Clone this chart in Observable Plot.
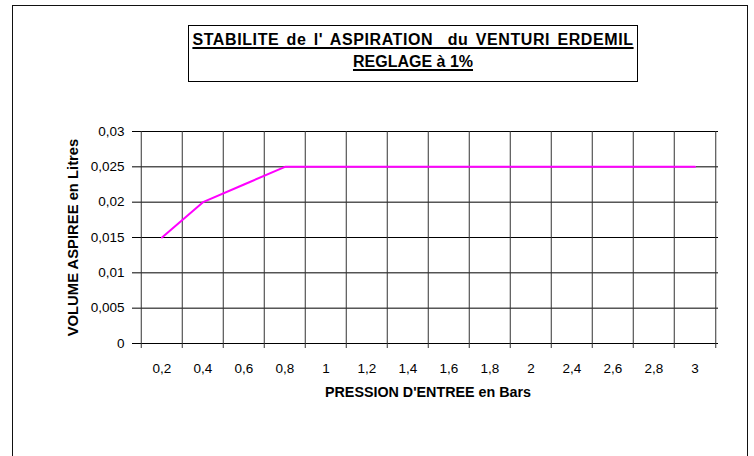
<!DOCTYPE html>
<html>
<head>
<meta charset="utf-8">
<script src="https://cdn.jsdelivr.net/npm/d3@7"></script>
<script src="https://cdn.jsdelivr.net/npm/@observablehq/plot@0.6"></script>
<style>
html, body { margin: 0; padding: 0; background: #fff; width: 754px; height: 456px; overflow: hidden; font-family: "Liberation Sans", Arial, sans-serif; }
#frame { position: absolute; left: 12px; top: 5px; width: 736px; height: 480px; border: 1.5px solid #111; box-sizing: border-box; }
#title { position: absolute; left: 188px; top: 25px; width: 450px; height: 57px; border: 1px solid #000; box-sizing: border-box; }
#title .l { position: absolute; left: 0; width: 100%; text-align: center; font-weight: bold; font-size: 16px; line-height: 16px; color: #000; text-decoration: underline; text-decoration-thickness: 2px; text-underline-offset: 2px; white-space: pre; }
#t1 { letter-spacing: 0.6px; word-spacing: 2.2px; }
#chart { position: absolute; left: 0; top: 95px; }
</style>
</head>
<body>
<div id="frame"></div>
<div id="title">
  <div class="l" id="t1" style="top:6px"></div>
  <div class="l" id="t2" style="top:28px"></div>
</div>
<div id="chart"></div>
<script>
const titleLines = ["STABILITE de l' ASPIRATION  du VENTURI ERDEMIL", "REGLAGE à 1%"];
const xTitle = "PRESSION D'ENTREE en Bars";
const yTitle = "VOLUME ASPIREE en Litres";
const pressures = [0.2, 0.4, 0.6, 0.8, 1, 1.2, 1.4, 1.6, 1.8, 2, 2.4, 2.6, 2.8, 3];
const volumes = [0.015, 0.02, 0.0225, 0.025, 0.025, 0.025, 0.025, 0.025, 0.025, 0.025, 0.025, 0.025, 0.025, 0.025];
const yTicks = [0, 0.005, 0.01, 0.015, 0.02, 0.025, 0.03];

document.getElementById("t1").textContent = titleLines[0];
document.getElementById("t2").textContent = titleLines[1];

const W = 754, H = 320;
const mL = 137, mR = 36, mT = 36, mB = 72;
const bw = (W - mL - mR) / pressures.length;
const fmt = d => String(d).replace(".", ",");
const data = pressures.map((p, i) => ({p, v: volumes[i]}));

const chart = Plot.plot({
  width: W, height: H,
  marginLeft: mL, marginRight: mR, marginTop: mT, marginBottom: mB,
  style: {fontFamily: "'Liberation Sans', Arial, sans-serif", fontSize: "13.5px", color: "#000", background: "transparent", overflow: "visible"},
  x: {type: "band", domain: pressures, padding: 0, tickSize: 0, tickPadding: 20, tickFormat: fmt, label: null},
  y: {domain: [0, 0.03], ticks: yTicks, tickSize: 5, tickPadding: 8, tickFormat: fmt, label: null},
  marks: [
    Plot.ruleY(yTicks, {stroke: "#000"}),
    Plot.ruleX(pressures, {x: d => d, dx: -bw / 2, insetBottom: -5, stroke: "#333"}),
    Plot.ruleX(pressures.slice(-1), {x: d => d, dx: bw / 2, insetBottom: -5, stroke: "#333"}),
    Plot.line(data, {x: "p", y: "v", stroke: "#FF00FF", strokeWidth: 2}),
    Plot.text([xTitle], {text: d => d, frameAnchor: "bottom", dy: 53, fontWeight: "bold", fontSize: 14.3, fill: "#000"}),
    Plot.text([yTitle], {text: d => d, frameAnchor: "left", textAnchor: "middle", lineAnchor: "middle", rotate: -90, dx: -64, fontWeight: "bold", fontSize: 14.8, fill: "#000"})
  ]
});
document.getElementById("chart").appendChild(chart);
</script>
</body>
</html>
